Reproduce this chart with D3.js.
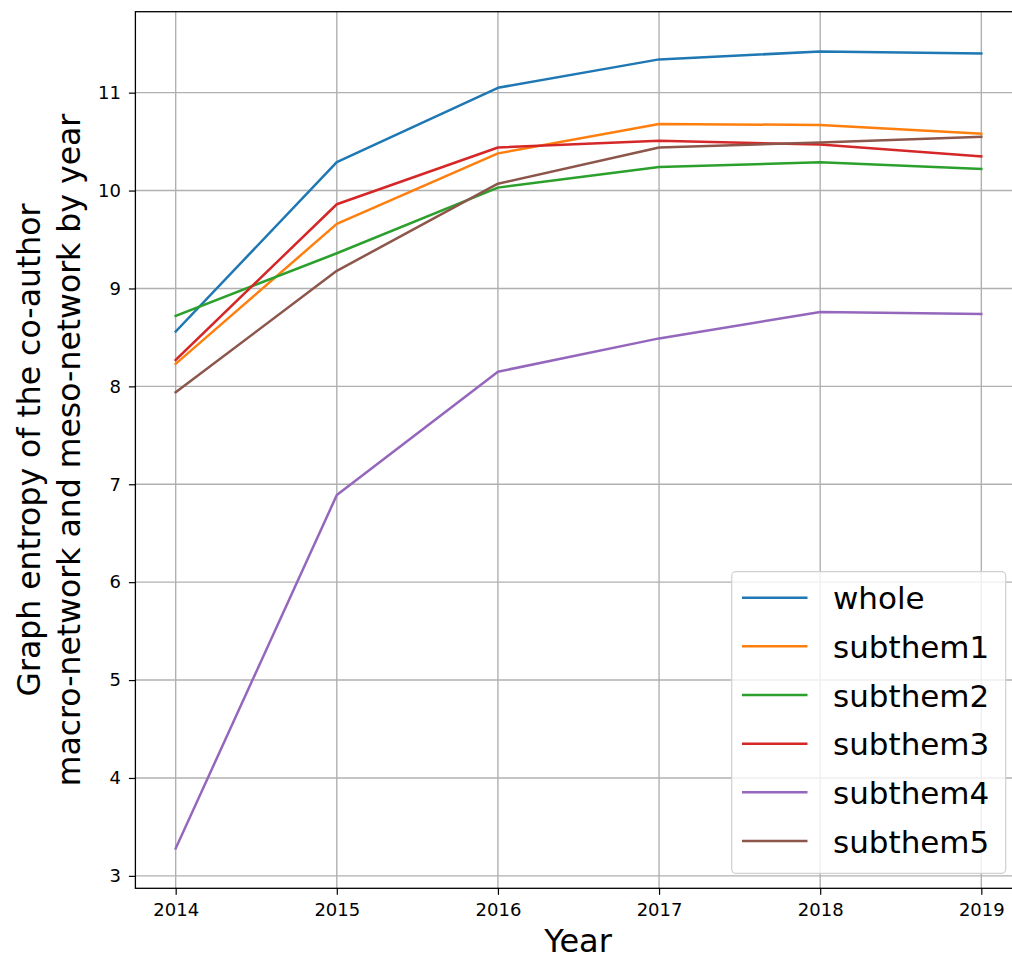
<!DOCTYPE html>
<html>
<head>
<meta charset="utf-8">
<script src="https://cdn.jsdelivr.net/npm/d3@7"></script>
<style>
  html, body { margin: 0; padding: 0; background: #fff; }
  svg { display: block; font-family: "DejaVu Sans", sans-serif; }
</style>
</head>
<body>
<svg id="chart" width="1012" height="960"></svg>
<script>
// ---- data ----
const years = [2014, 2015, 2016, 2017, 2018, 2019];
const whole    = [8.56, 10.29, 11.05, 11.34, 11.42, 11.40];
const subthem1 = [8.23, 9.66, 10.38, 10.68, 10.67, 10.58];
const subthem2 = [8.72, 9.36, 10.03, 10.24, 10.29, 10.22];
const subthem3 = [8.27, 9.86, 10.44, 10.51, 10.47, 10.35];
const subthem4 = [3.28, 6.89, 8.15, 8.49, 8.76, 8.74];
const subthem5 = [7.94, 9.18, 10.07, 10.44, 10.49, 10.55];
const seriesNames = ["whole", "subthem1", "subthem2", "subthem3", "subthem4", "subthem5"];
const seriesValues = [whole, subthem1, subthem2, subthem3, subthem4, subthem5];
const colors = ["#1f77b4", "#ff7f0e", "#2ca02c", "#d62728", "#9467bd", "#8c564b"];
const yTicks = [3, 4, 5, 6, 7, 8, 9, 10, 11];
const xLabel = "Year";
const yLabelLines = ["Graph entropy of the co-author", "macro-network and meso-network by year"];

// ---- layout ----
const pL = 135.4, pR = 1021.6, pT = 11.7, pB = 888.3;
const svg = d3.select("#chart");

const xPad = (d3.max(years) - d3.min(years)) * 0.05;
const x = d3.scaleLinear()
  .domain([d3.min(years) - xPad, d3.max(years) + xPad])
  .range([pL, pR]);

const allVals = seriesValues.flat();
const [ymin, ymax] = d3.extent(allVals);
const yPad = (ymax - ymin) * 0.05;
const y = d3.scaleLinear()
  .domain([ymin - yPad, ymax + yPad])
  .range([pB, pT]);

svg.append("defs").append("clipPath").attr("id", "clip")
  .append("rect").attr("x", pL).attr("y", pT)
  .attr("width", pR - pL).attr("height", pB - pT);

// grid
const grid = svg.append("g");
grid.selectAll("line.gx").data(years).enter().append("line")
  .attr("x1", d => x(d)).attr("x2", d => x(d))
  .attr("y1", pT).attr("y2", pB)
  .attr("stroke", "#b0b0b0").attr("stroke-width", 1.4);
grid.selectAll("line.gy").data(yTicks).enter().append("line")
  .attr("x1", pL).attr("x2", pR)
  .attr("y1", d => y(d)).attr("y2", d => y(d))
  .attr("stroke", "#b0b0b0").attr("stroke-width", 1.4);

// lines
const line = d3.line().x((d, i) => x(years[i])).y(d => y(d));
const lines = svg.append("g").attr("clip-path", "url(#clip)");
seriesValues.forEach((vals, i) => {
  lines.append("path").datum(vals)
    .attr("d", line)
    .attr("fill", "none")
    .attr("stroke", colors[i])
    .attr("stroke-width", 2.5)
    .attr("stroke-linejoin", "round")
    .attr("stroke-linecap", "square");
});

// axes
const xAxis = d3.axisBottom(x).tickValues(years).tickFormat(d3.format("d"))
  .tickSize(6.5).tickPadding(8);
const yAxis = d3.axisLeft(y).tickValues(yTicks).tickFormat(d3.format("d"))
  .tickSize(6.5).tickPadding(8);

const gx = svg.append("g").attr("transform", `translate(0,${pB})`).call(xAxis);
const gy = svg.append("g").attr("transform", `translate(${pL},0)`).call(yAxis);
[gx, gy].forEach(g => {
  g.select(".domain").remove();
  g.selectAll(".tick line").attr("stroke", "#000").attr("stroke-width", 1.2);
  g.selectAll(".tick text").attr("fill", "#000").style("font-size", "18px")
    .style("font-family", "DejaVu Sans");
});

// spines
svg.append("rect").attr("x", pL).attr("y", pT)
  .attr("width", pR - pL).attr("height", pB - pT)
  .attr("fill", "none").attr("stroke", "#000").attr("stroke-width", 1.3);

// axis labels
svg.append("text").attr("x", 578).attr("y", 952)
  .attr("text-anchor", "middle").style("font-size", "32px").attr("fill", "#000")
  .text(xLabel);

const yl = svg.append("text")
  .attr("transform", `translate(40,${(pT + pB) / 2}) rotate(-90)`)
  .attr("text-anchor", "middle").style("font-size", "31.5px").attr("fill", "#000");
yLabelLines.forEach((t, i) => {
  yl.append("tspan").attr("x", 0).attr("dy", i === 0 ? 0 : 40).text(t);
});

// legend
const lg = svg.append("g");
lg.append("rect").attr("x", 731.7).attr("y", 571.7)
  .attr("width", 274).attr("height", 301.6).attr("rx", 4)
  .attr("fill", "rgba(255,255,255,0.8)").attr("stroke", "#d0d0d0").attr("stroke-width", 1.2);
seriesNames.forEach((name, i) => {
  const cy = 597.7 + i * 48.66;
  lg.append("line").attr("x1", 742).attr("x2", 807.5).attr("y1", cy).attr("y2", cy)
    .attr("stroke", colors[i]).attr("stroke-width", 2.5);
  lg.append("text").attr("x", 833).attr("y", cy + 11.5)
    .style("font-size", "31px").attr("fill", "#000").text(name);
});
</script>
</body>
</html>
